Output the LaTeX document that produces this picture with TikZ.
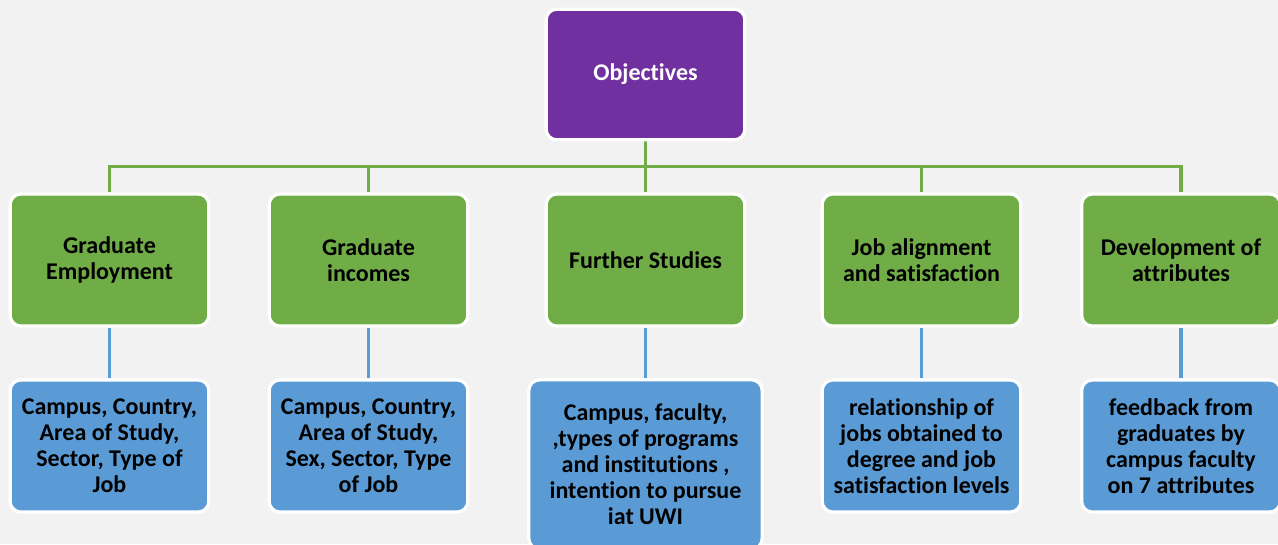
\documentclass[tikz,border=0pt]{standalone}
\usepackage{fontspec}
\setmainfont{Carlito}[Ligatures=NoCommon]
\usetikzlibrary{backgrounds}

\definecolor{objpurple}{HTML}{7030A0}
\definecolor{objgreen}{HTML}{70AD47}
\definecolor{objblue}{HTML}{5B9BD5}
\definecolor{paper}{HTML}{F2F2F2}

\tikzset{
  box/.style={draw=white, line width=2.4pt, rounded corners=8pt, align=center,
    font=\fontsize{18}{19.5}\selectfont\bfseries, inner sep=2pt},
  topbox/.style={box, fill=objpurple, text=white, minimum width=149pt, minimum height=98pt},
  aimbox/.style={box, fill=objgreen, minimum width=149pt, minimum height=99pt},
  databox/.style={box, fill=objblue, minimum width=149pt, minimum height=99pt},
  greenline/.style={objgreen, line width=2.6pt},
  blueline/.style={objblue, line width=2.6pt}
}

\begin{document}
\begin{tikzpicture}[x=0.75pt, y=0.75pt]
   \useasboundingbox (0,0) rectangle (1278,-544);
   \clip (0,0) rectangle (1278,-544);

   \node[topbox] (obj) at (645.5,-74.5) {Objectives};

   \node[aimbox] (g1) at (109.5,-260) {Graduate\\Employment};
   \node[aimbox] (g2) at (368.5,-260) {Graduate\\incomes};
   \node[aimbox] (g3) at (645.5,-260) {Further Studies};
   \node[aimbox] (g4) at (921.5,-260) {Job alignment\\and satisfaction};
   \node[aimbox] (g5) at (1181,-260) {Development of\\attributes};

   \node[databox] (d1) at (109.5,-446) {Campus, Country,\\Area of Study,\\Sector, Type of\\Job};
   \node[databox] (d2) at (368.5,-446) {Campus, Country,\\Area of Study,\\Sex, Sector, Type\\of Job};
   \node[databox, minimum width=175pt, minimum height=127pt] (d3) at (645.5,-464.5)
      {Campus, faculty,\\,types of programs\\and institutions ,\\intention to pursue\\iat UWI};
   \node[databox] (d4) at (921.5,-446) {relationship of\\jobs obtained to\\degree and job\\satisfaction levels};
   \node[databox] (d5) at (1181,-446) {feedback from\\graduates by\\campus faculty\\on 7 attributes};

   \begin{scope}[on background layer]
   \fill[paper] (0,0) rectangle (1278,-544);
   \foreach \g in {1,...,5}
   \draw[greenline] (obj.south) -- ++(0,-25) -| (g\g.north);
   \foreach \g in {1,...,5}
   \draw[blueline] (g\g.south) -- (d\g.north);
   \end{scope}

\end{tikzpicture}
\end{document}
